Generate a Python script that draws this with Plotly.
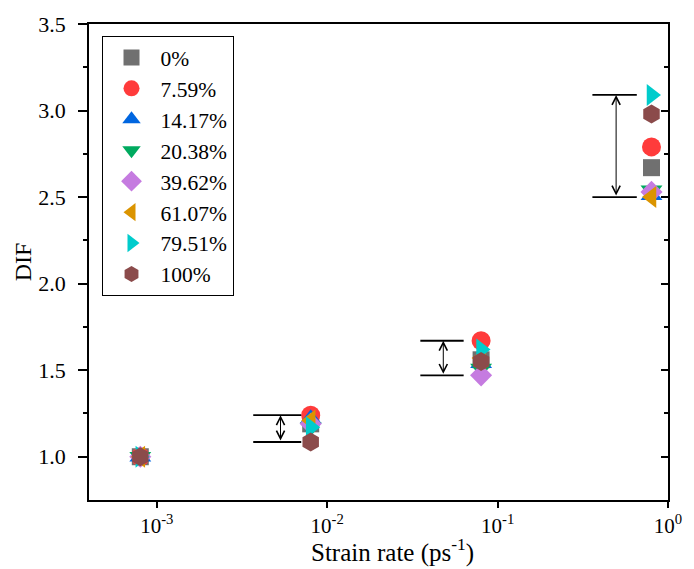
import numpy as np
import plotly.graph_objects as go

# ---------------- data ----------------
strain_rate = [0.0008, 0.008, 0.08, 0.8]
series_names = ["0%", "7.59%", "14.17%", "20.38%", "39.62%", "61.07%", "79.51%", "100%"]
dif_0 = [1.0, 1.19, 1.56, 2.67]
dif_759 = [1.0, 1.24, 1.67, 2.79]
dif_1417 = [1.0, 1.22, 1.54, 2.51]
dif_2038 = [1.0, 1.17, 1.51, 2.54]
dif_3962 = [1.0, 1.19, 1.47, 2.53]
dif_6107 = [1.0, 1.21, 1.57, 2.50]
dif_7951 = [1.0, 1.17, 1.62, 3.09]
dif_100 = [1.0, 1.085, 1.55, 2.98]
x_tickvals = [0.001, 0.01, 0.1, 1]
x_ticktext = ["10<sup>-3</sup>", "10<sup>-2</sup>", "10<sup>-1</sup>", "10<sup>0</sup>"]

all_series = [dif_0, dif_759, dif_1417, dif_2038, dif_3962, dif_6107, dif_7951, dif_100]

# ---------------- styles ----------------
colors = ["#707070", "#FF3B3B", "#0066E0", "#00AA5F", "#C57BE0", "#DB9400", "#00CCCC", "#8B4B4B"]
symbols = ["square", "circle", "triangle-up", "triangle-down", "diamond", "triangle-left", "triangle-right", "hexagon"]
sizes = [17, 19, 19, 19, 17, 19, 19, 19]
FONT = "Liberation Serif"

fig = go.Figure()
for name, vals, c, s, sz in zip(series_names, all_series, colors, symbols, sizes):
    fig.add_trace(go.Scatter(x=strain_rate, y=vals, mode="markers", name=name,
                             marker=dict(symbol=s, color=c, size=sz, line=dict(width=0))))

# range brackets (max - min) for the three upper strain rates
bracket_left = [0.46, 0.44, 0.45]   # factor of strain rate
bracket_right = [0.88, 0.79, 0.82]
bracket_arrow = [0.665, 0.60, 0.62]
for i, k in enumerate([1, 2, 3]):
    xr = strain_rate[k]
    col = [srs[k] for srs in all_series]
    ymax, ymin = max(col), min(col)
    xl, xrr, xa = xr * bracket_left[i], xr * bracket_right[i], xr * bracket_arrow[i]
    fig.add_trace(go.Scatter(x=[xl, xrr, None, xl, xrr], y=[ymax, ymax, None, ymin, ymin],
                             mode="lines", line=dict(color="black", width=1.8),
                             showlegend=False, hoverinfo="skip"))
    fig.add_annotation(x=np.log10(xa), y=ymax, ax=np.log10(xa), ay=ymin,
                       xref="x", yref="y", axref="x", ayref="y", text="",
                       showarrow=True, arrowhead=5, arrowside="end+start",
                       arrowsize=1.6, arrowwidth=1, arrowcolor="black", standoff=0, startstandoff=0)

# mirrored right axis with inward ticks
fig.add_trace(go.Scatter(x=[strain_rate[0]], y=[1.0], yaxis="y2", mode="markers",
                         marker=dict(opacity=0), showlegend=False, hoverinfo="skip"))

# x-axis title as annotation (placed like the reference)
fig.add_annotation(text="Strain rate (ps<sup>-1</sup>)", xref="paper", yref="paper",
                   x=0.525, y=-0.068, xanchor="center", yanchor="top", showarrow=False,
                   font=dict(family=FONT, size=25, color="black"))

fig.update_layout(
    width=694, height=569,
    margin=dict(l=89, r=16, t=22, b=69),
    paper_bgcolor="white", plot_bgcolor="white",
    font=dict(family=FONT, size=20, color="black"),
    showlegend=True,
    legend=dict(x=0.0216, y=0.975, xanchor="left", yanchor="top",
                bgcolor="white", bordercolor="black", borderwidth=1,
                font=dict(family=FONT, size=21.5, color="black"),
                itemsizing="trace", itemwidth=48, tracegroupgap=0),
    xaxis=dict(type="log", range=[-3.398, 0], tickvals=x_tickvals, ticktext=x_ticktext,
               ticks="outside", ticklen=6, tickwidth=1.5, tickcolor="black",
               showline=True, linecolor="black", linewidth=1.5, mirror=True,
               showgrid=False, zeroline=False,
               tickfont=dict(family=FONT, size=21)),
    yaxis=dict(range=[0.75, 3.5], tickvals=[1.0, 1.5, 2.0, 2.5, 3.0, 3.5], tickformat=".1f",
               ticks="outside", ticklen=9, tickwidth=1.5, tickcolor="black",
               minor=dict(tickvals=[1.25, 1.75, 2.25, 2.75, 3.25], ticks="outside", ticklen=4,
                          tickwidth=1.5, tickcolor="black"),
               showline=True, linecolor="black", linewidth=1.5, mirror=False,
               showgrid=False, zeroline=False, ticklabelstandoff=8,
               title=dict(text="DIF", font=dict(family=FONT, size=24), standoff=0),
               tickfont=dict(family=FONT, size=22)),
    yaxis2=dict(overlaying="y", side="right", range=[0.75, 3.5],
                tickvals=[1.0, 1.5, 2.0, 2.5, 3.0, 3.5], showticklabels=False,
                ticks="inside", ticklen=7, tickwidth=1.5, tickcolor="black",
                minor=dict(tickvals=[1.25, 1.75, 2.25, 2.75, 3.25], ticks="inside", ticklen=4,
                           tickwidth=1.5, tickcolor="black"),
                showline=True, linecolor="black", linewidth=1.5,
                showgrid=False, zeroline=False),
)

fig.write_html("out.html")
